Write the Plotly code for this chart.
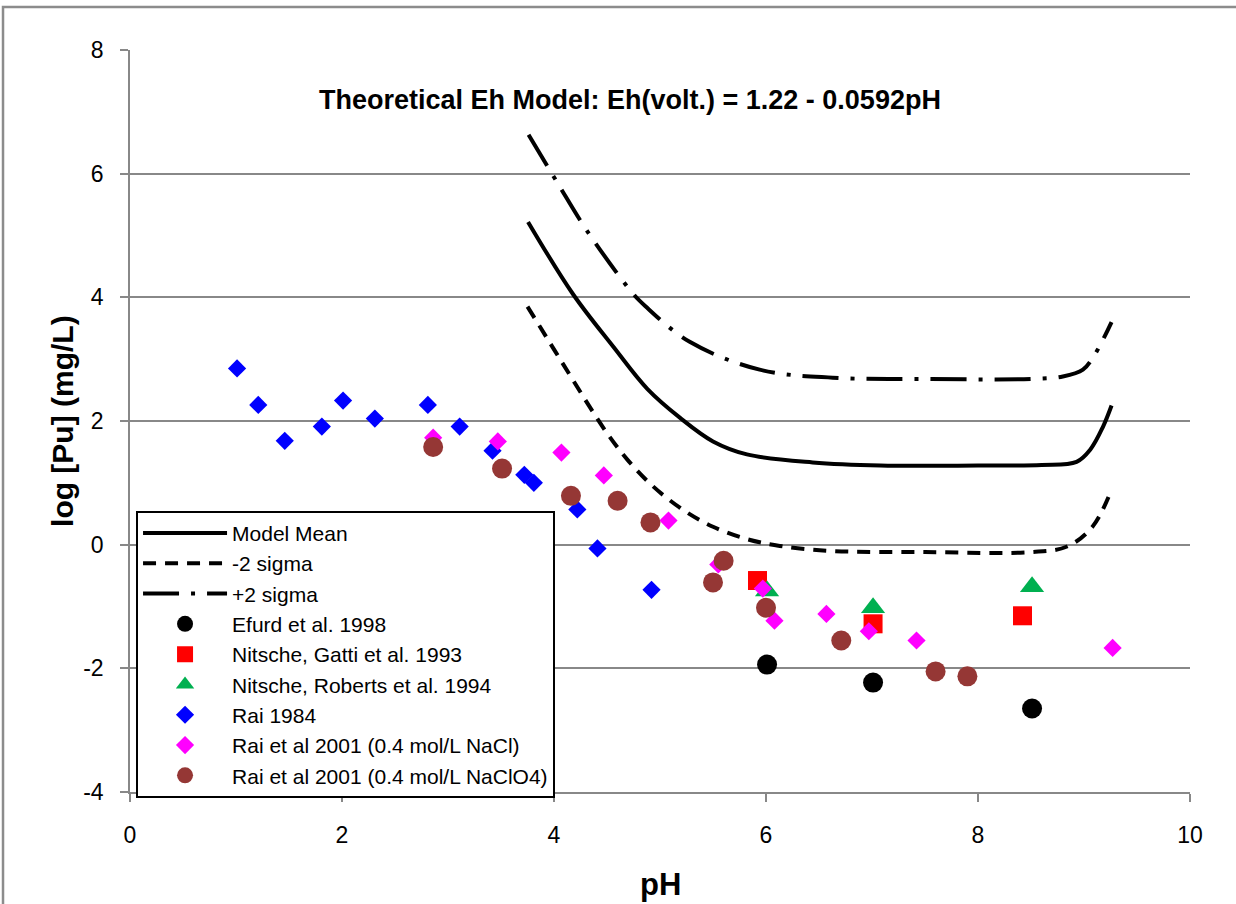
import plotly.graph_objects as go

# ---- Model curves ----
ph_mean = [3.755, 4.18, 4.56, 4.88, 5.19, 5.5, 5.82, 6.44, 7.08, 8.0, 8.6, 8.93, 9.06, 9.18, 9.26]
log_mean = [5.22, 4.05, 3.20, 2.52, 2.05, 1.67, 1.46, 1.33, 1.28, 1.28, 1.29, 1.34, 1.54, 1.91, 2.25]

ph_minus = [3.75, 4.01, 4.18, 4.34, 4.51, 4.69, 4.93, 5.22, 5.5, 5.82, 6.13, 6.6, 7.5, 8.5, 8.84, 9.08, 9.26]
log_minus = [3.85, 3.13, 2.66, 2.22, 1.78, 1.38, 0.95, 0.56, 0.29, 0.09, -0.02, -0.1, -0.12, -0.12, -0.03, 0.29, 0.89]

ph_plus = [3.76, 4.04, 4.31, 4.74, 4.86, 5.28, 5.94, 6.63, 7.5, 8.5, 8.8, 8.99, 9.1, 9.26]
log_plus = [6.63, 5.83, 5.08, 4.07, 3.86, 3.28, 2.83, 2.70, 2.68, 2.68, 2.72, 2.83, 3.07, 3.6]

# ---- Measured data ----
efurd_ph = [6.01, 7.01, 8.51]
efurd_log = [-1.94, -2.23, -2.65]

gatti_ph = [5.92, 7.01, 8.42]
gatti_log = [-0.58, -1.28, -1.15]

roberts_ph = [6.01, 7.01, 8.51]
roberts_log = [-0.75, -1.02, -0.68]

rai84_ph = [1.01, 1.21, 1.46, 1.81, 2.01, 2.31, 2.81, 3.11, 3.42, 3.72, 3.81, 4.22, 4.41, 4.92]
rai84_log = [2.85, 2.26, 1.68, 1.91, 2.33, 2.04, 2.26, 1.91, 1.52, 1.13, 1.0, 0.57, -0.06, -0.73]

rai01_nacl_ph = [2.86, 3.47, 4.07, 4.47, 5.08, 5.55, 5.97, 6.08, 6.57, 6.97, 7.42, 9.27]
rai01_nacl_log = [1.73, 1.67, 1.49, 1.12, 0.39, -0.32, -0.71, -1.23, -1.12, -1.40, -1.55, -1.67]

rai01_clo4_ph = [2.86, 3.51, 4.16, 4.6, 4.91, 5.5, 5.6, 6.0, 6.71, 7.6, 7.9]
rai01_clo4_log = [1.58, 1.23, 0.79, 0.71, 0.36, -0.61, -0.26, -1.02, -1.55, -2.05, -2.13]

x_ticks = [0, 2, 4, 6, 8, 10]
y_ticks = [-4, -2, 0, 2, 4, 6, 8]
y_tick_text = ["-4", "-2", "0", "2", "4", "6", "8"]

FONT = "Liberation Sans, Arial, sans-serif"

fig = go.Figure()

def line_trace(x, y, name, dash, g):
    fig.add_trace(go.Scatter(
        x=x, y=y, name=name, mode="lines", legendgroup=g,
        line=dict(color="black", width=4, dash=dash, shape="spline", smoothing=1.0),
    ))

line_trace(ph_mean, log_mean, "Model Mean", "solid", "g1")
line_trace(ph_minus, log_minus, "-2 sigma", "13px,9px", "g2")
line_trace(ph_plus, log_plus, "+2 sigma", "36px,12px,4px,12px", "g3")

def marker_trace(x, y, name, symbol, color, size, g):
    fig.add_trace(go.Scatter(
        x=x, y=y, name=name, mode="markers", legendgroup=g,
        marker=dict(symbol=symbol, color=color, size=size, line=dict(width=0)),
    ))

marker_trace(efurd_ph, efurd_log, "Efurd et al. 1998", "circle", "#000000", 20, "g4")
marker_trace(gatti_ph, gatti_log, "Nitsche, Gatti et al. 1993", "square", "#FF0000", 19, "g5")
marker_trace(roberts_ph, roberts_log, "Nitsche, Roberts et al. 1994", "triangle-up", "#00B050", 21, "g6")
marker_trace(rai84_ph, rai84_log, "Rai 1984", "diamond", "#0000FF", 14, "g7")
marker_trace(rai01_nacl_ph, rai01_nacl_log, "Rai et al 2001 (0.4 mol/L NaCl)", "diamond", "#FF00FF", 14, "g8")
marker_trace(rai01_clo4_ph, rai01_clo4_log, "Rai et al 2001 (0.4 mol/L NaClO4)", "circle", "#953735", 20, "g9")

fig.update_layout(
    width=1236, height=904,
    margin=dict(l=130, r=46, t=50, b=112),
    paper_bgcolor="white", plot_bgcolor="white",
    font=dict(family=FONT, color="black"),
    showlegend=True,
    legend=dict(
        x=0.0057, y=0.379, xanchor="left", yanchor="top",
        bgcolor="white", bordercolor="black", borderwidth=2,
        font=dict(family=FONT, size=21, color="black"),
        tracegroupgap=3.4, itemwidth=84,
        traceorder="normal",
    ),
    xaxis=dict(
        range=[0, 10], tickvals=x_ticks, showgrid=False, zeroline=False,
        showline=True, linecolor="#888888", linewidth=1.5,
        ticks="outside", ticklen=8, tickcolor="#888888", tickwidth=1.5,
        tickfont=dict(family=FONT, size=23), ticklabelstandoff=14,
    ),
    yaxis=dict(
        range=[-4, 8], tickvals=y_ticks, ticktext=y_tick_text,
        showgrid=True, gridcolor="#888888", gridwidth=1.5,
        zeroline=False, showline=True, linecolor="#888888", linewidth=1.5,
        ticks="outside", ticklen=8, tickcolor="#888888", tickwidth=1.5,
        tickfont=dict(family=FONT, size=23), ticklabelstandoff=12,
    ),
    annotations=[
        dict(text="<b>Theoretical Eh Model: Eh(volt.) = 1.22 - 0.0592pH</b>",
             x=0.4717, y=0.9326, xref="paper", yref="paper", showarrow=False,
             xanchor="center", yanchor="middle",
             font=dict(family=FONT, size=27, color="black")),
        dict(text="<b>pH</b>", x=0.5, y=-0.1253, xref="paper", yref="paper", showarrow=False,
             xanchor="center", yanchor="middle", font=dict(family=FONT, size=31, color="black")),
        dict(text="<b>log [Pu] (mg/L)</b>", x=-0.0642, y=0.5, xref="paper", yref="paper", showarrow=False,
             textangle=-90, xanchor="center", yanchor="middle",
             font=dict(family=FONT, size=30, color="black")),
    ],
    shapes=[
        dict(type="rect", xref="paper", yref="paper", x0=-0.1198, y0=-0.3, x1=1.2, y1=1.058,
             line=dict(color="#8c8c8c", width=2.5), fillcolor="rgba(0,0,0,0)", layer="below"),
    ],
)

fig.write_html("out.html", config={"displayModeBar": False},
               post_script="document.body.style.margin='0px';document.body.style.overflow='hidden';")
